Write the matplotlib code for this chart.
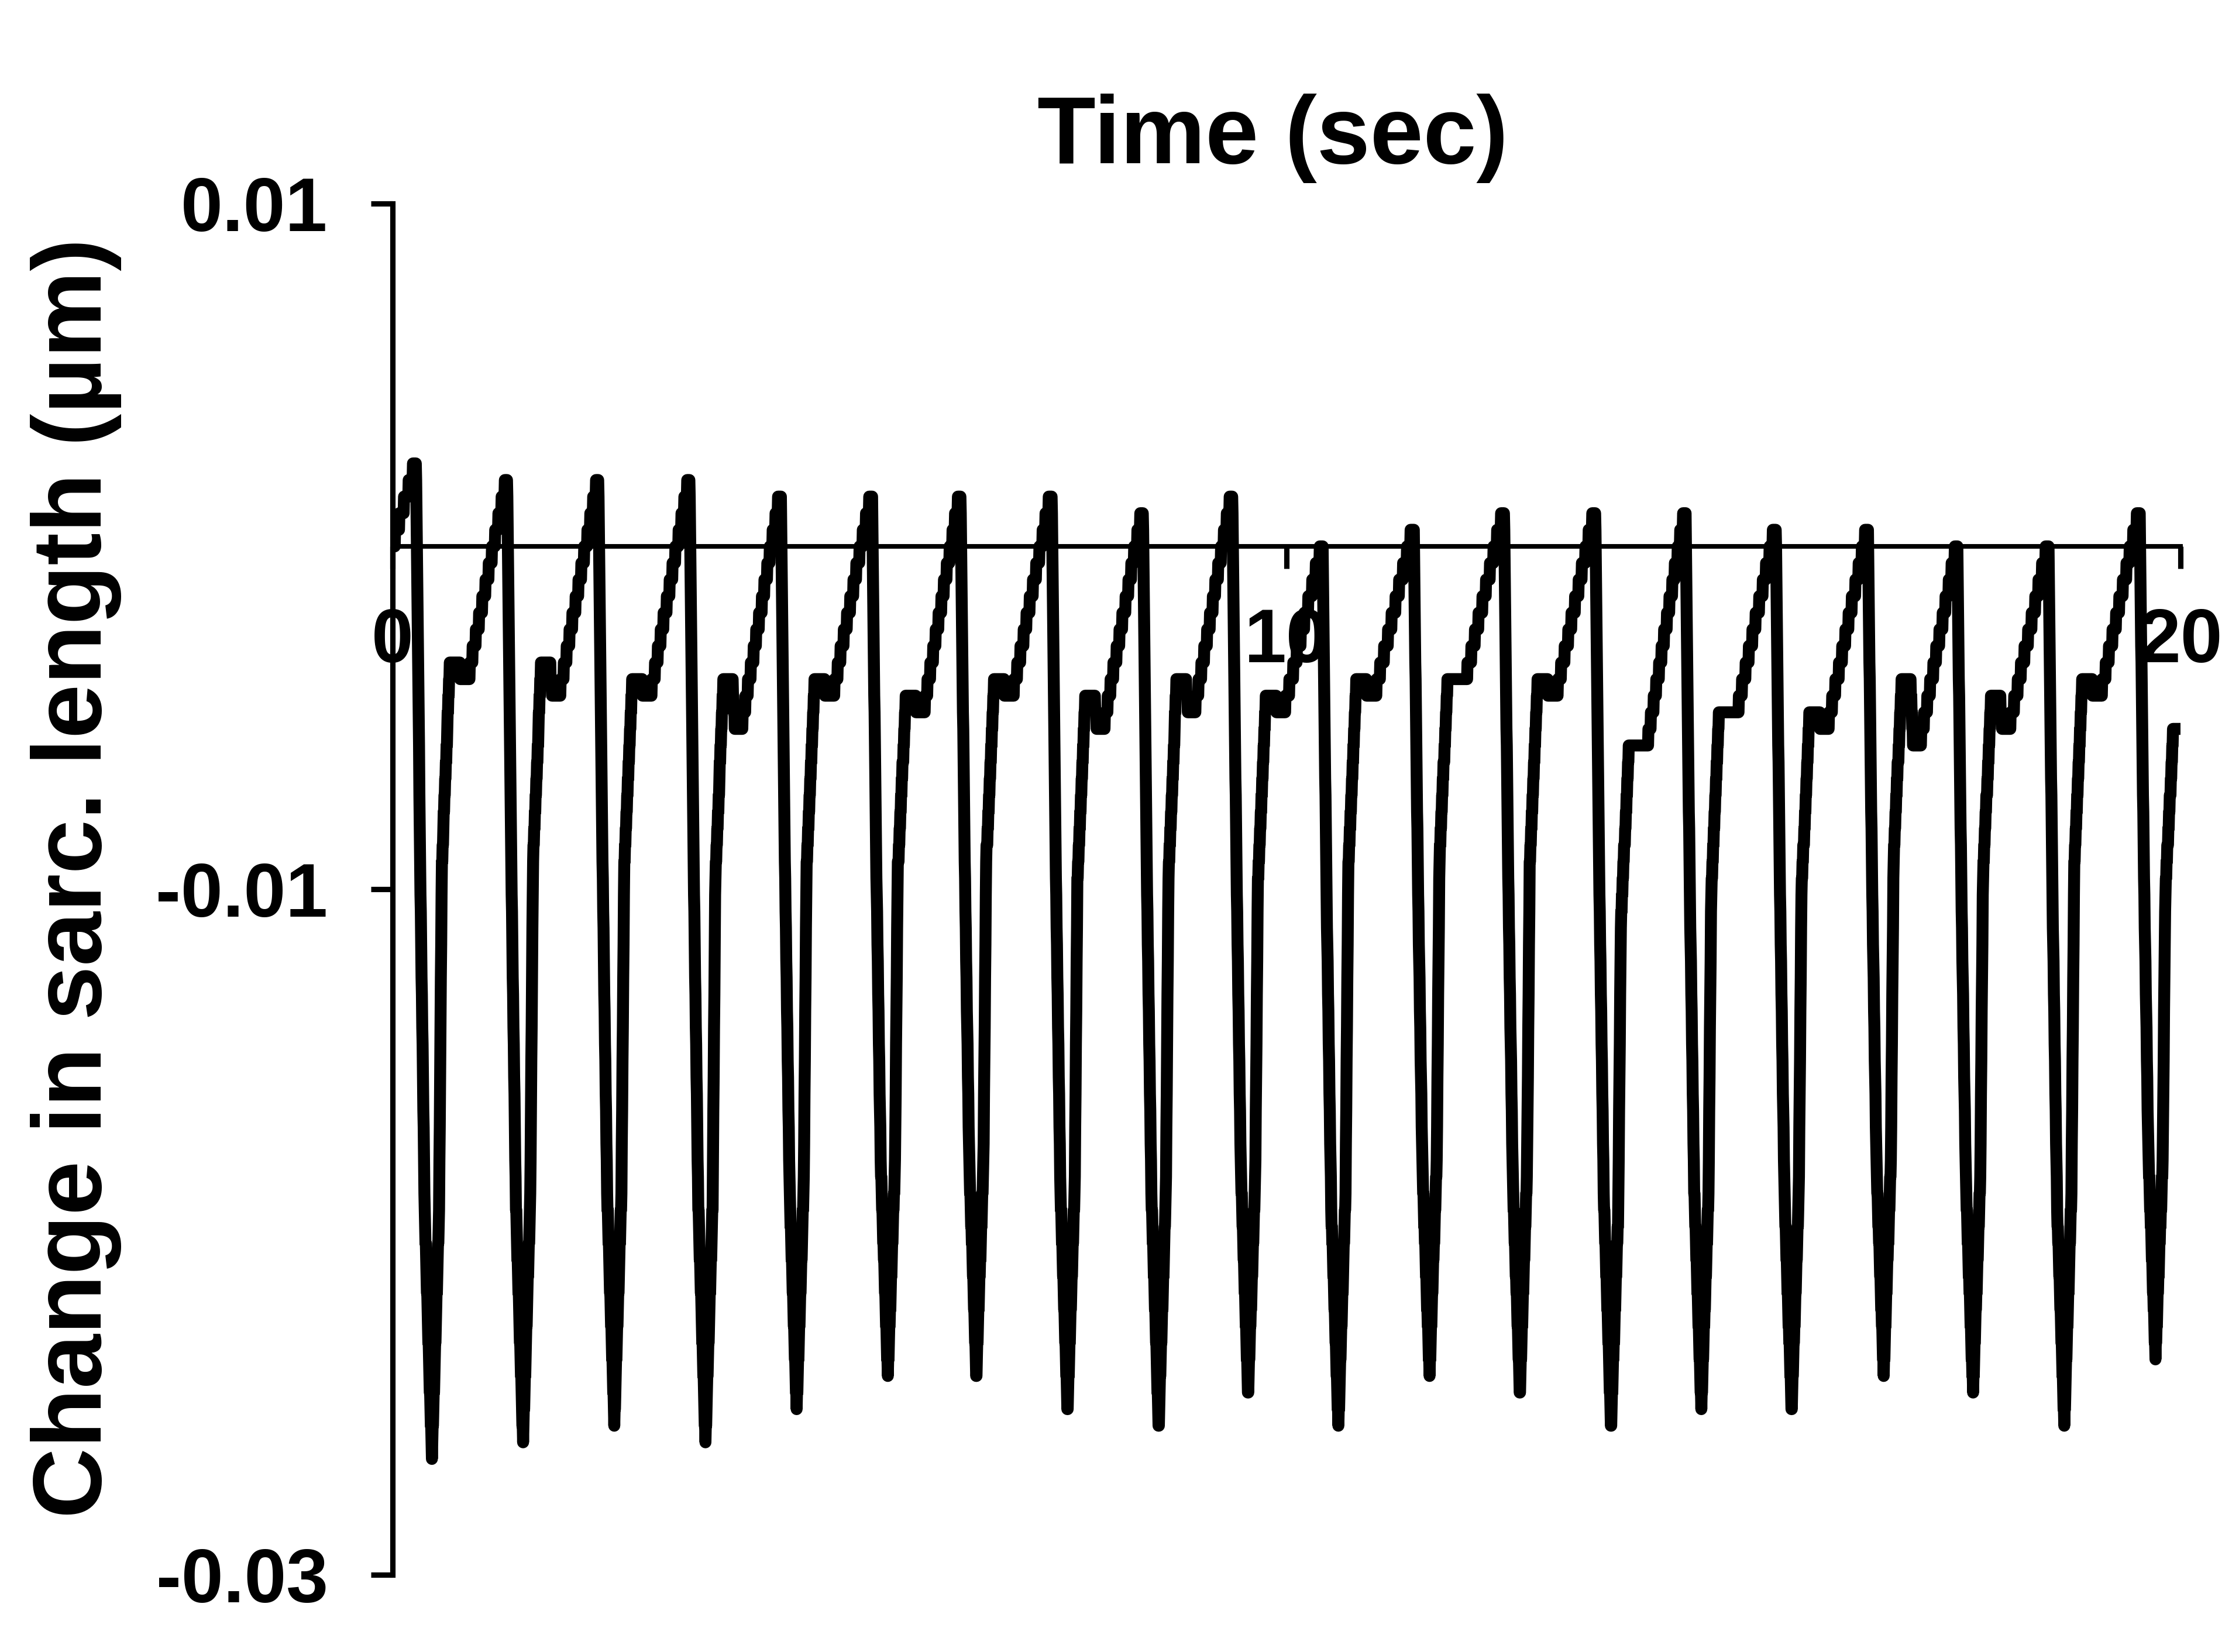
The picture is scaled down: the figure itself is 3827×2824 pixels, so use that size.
import numpy as np
import matplotlib.pyplot as plt

plt.rcParams['font.family'] = ['Liberation Sans', 'DejaVu Sans']
plt.rcParams['font.weight'] = 'bold'
plt.rcParams['axes.unicode_minus'] = False

# beats: time of each trough (s) and change in length (um)
trough_t = [0.44, 1.46, 2.48, 3.50, 4.52, 5.54, 6.53, 7.55, 8.57, 9.57,
            10.58, 11.60, 12.61, 13.63, 14.64, 15.65, 16.68, 17.68, 18.70, 19.72]
trough_v = [-0.0266, -0.0261, -0.0256, -0.0261, -0.0252, -0.0242, -0.0242, -0.0252, -0.0256, -0.0247,
            -0.0256, -0.0242, -0.0247, -0.0256, -0.0252, -0.0252, -0.0242, -0.0247, -0.0256, -0.0237]
# peak just before each trough
peak_v = [0.0024, 0.0019, 0.0019, 0.0019, 0.0015, 0.0015, 0.0015, 0.0015, 0.0010, 0.0015,
          0.0, 0.0005, 0.0010, 0.0010, 0.0010, 0.0005, 0.0005, 0.0, 0.0, 0.0010]
# level after relaxation (shoulder) and lowest level before the slow climb
shoulder_v = [-0.0034, -0.0034, -0.0039, -0.0039, -0.0039, -0.0044, -0.0039, -0.0044, -0.0039, -0.0044,
              -0.0039, -0.0039, -0.0039, -0.0058, -0.0048, -0.0048, -0.0039, -0.0044, -0.0039]
dip_v = [-0.0039, -0.0044, -0.0044, -0.0053, -0.0044, -0.0048, -0.0044, -0.0053, -0.0048, -0.0048,
         -0.0044, -0.0039, -0.0044, -0.0058, -0.0048, -0.0053, -0.0058, -0.0053, -0.0044]
start_v = 0.0
end_v = -0.0053
q = 0.000484          # step height of the recorded length

# shape of one beat around its trough (read from beat 2)
fall_dt = [-0.177, -0.13, -0.08, 0.0]
fall_frac = [0.0, 0.414, 0.754, 1.0]
rise_dt = [0.08, 0.11, 0.17, 0.20]
rise_frac = [0.31, 0.74, 0.91, 1.0]
hold_end, dip_start, dip_end, peak_lead = 0.30, 0.33, 0.40, 0.19

key_t = [0.0]
key_v = [start_v]
n = len(trough_t)
for k in range(n):
    T, vt, vp = trough_t[k], trough_v[k], peak_v[k]
    key_t.append(T - peak_lead)
    key_v.append(vp)
    for dt, f in zip(fall_dt, fall_frac):
        key_t.append(T + dt)
        key_v.append(vp + f * (vt - vp))
    sh = shoulder_v[k] if k < n - 1 else end_v
    for dt, f in zip(rise_dt, rise_frac):
        key_t.append(T + dt)
        key_v.append(vt + f * (sh - vt))
    if k < n - 1:
        key_t += [T + hold_end, T + dip_start, T + dip_end]
        key_v += [sh, dip_v[k], dip_v[k]]
key_t.append(20.0)
key_v.append(end_v)

t = np.arange(0, 20.0001, 0.004)
v = np.interp(t, key_t, key_v)
v = np.round(v / q) * q

W, H = 3827, 2824
fig = plt.figure(figsize=(W / 300, H / 300), dpi=300)
ax = fig.add_axes([671 / W, 1 - 2692 / H, (3727 - 671) / W, (2692 - 348) / H])

ax.plot(t, v, color='black', lw=4.9, solid_capstyle='round', solid_joinstyle='round')

ax.set_xlim(0, 20)
ax.set_ylim(-0.03, 0.01)
ax.spines['top'].set_visible(False)
ax.spines['right'].set_visible(False)
ax.spines['bottom'].set_position(('data', 0))
ax.spines['left'].set_linewidth(2.2)
ax.spines['bottom'].set_linewidth(1.9)

ax.set_yticks([0.01, -0.01, -0.03])
ax.set_yticklabels(['0.01', '-0.01', '-0.03'])
ax.set_xticks([0, 10, 20])
ax.set_xticklabels(['0', '10', '20'])
ax.tick_params(axis='y', length=9, width=2.2, pad=17.5, labelsize=31)
ax.tick_params(axis='x', length=9, width=2.2, pad=16, labelsize=31)

fig.text(2175 / W, 1 - 279 / H, 'Time (sec)', ha='center', va='baseline',
         fontsize=39.2, fontweight='bold')
fig.text(0.034, 1 - 1501 / H, 'Change in sarc. length (µm)', rotation=90,
         ha='center', va='center', fontsize=40, fontweight='bold')

fig.savefig('out.png', dpi=300)
